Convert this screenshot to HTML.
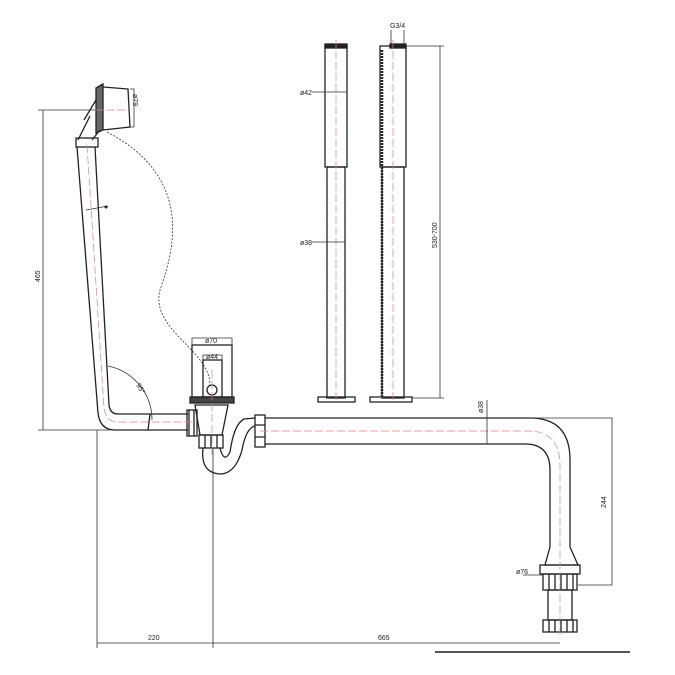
<!DOCTYPE html>
<html><head><meta charset="utf-8"><style>
html,body{margin:0;padding:0;background:#fff;}
svg{display:block;font-family:"Liberation Sans",sans-serif;}
</style></head><body>
<svg width="675" height="675" viewBox="0 0 675 675" xmlns="http://www.w3.org/2000/svg">
<g fill="none" stroke="#222" stroke-width="1.3">
<!-- overflow head -->
<path d="M96 88 L103 84 L103 130 L96 133 Z" fill="#666"/>
<path d="M103 87 L128 89 L130 127 L103 130"/>
<path d="M84 120 L96 100 M92 140 L100 130 M78 140 L90 116"/>
<rect x="76" y="138" width="22" height="9"/>
<!-- drain pipe left -->
<path d="M77 147 L98 413 Q100 430 115 430 L188 430"/>
<path d="M95 147 L109 405 Q110 414 118 414 L188 414"/>
<line x1="150" y1="414" x2="148" y2="430"/>
<rect x="187" y="410" width="10" height="26"/>
<path d="M189 410 v26 M194 410 v26"/>
<!-- drain -->
<rect x="192" y="345" width="40" height="52"/>
<rect x="203" y="360" width="19" height="37"/>
<circle cx="212" cy="390" r="5"/>
<rect x="190" y="397" width="44" height="6" fill="#444"/>
<path d="M195 405 L200 435 L222 435 L228 405 Z"/>
<rect x="199" y="435" width="24" height="13"/>
<path d="M205 435 v13 M211 435 v13 M217 435 v13"/>
<!-- trap -->
<path d="M203 448 Q200 474 222 474 Q236 472 242 450 Q246 428 255 426"/>
<path d="M220 448 Q224 464 230 452 Q234 424 244 419 L255 418"/>
<rect x="255" y="415" width="10" height="32"/>
<path d="M255 425 h10 M255 437 h10"/>
<!-- main pipe -->
<path d="M265 418 L530 418 Q570 418 570 460 L570 547"/>
<path d="M265 444 L525 444 Q550 444 550 470 L550 547"/>
<!-- bottom fitting -->
<path d="M550 547 L545 565 L578 565 L570 547"/>
<rect x="540" y="565" width="40" height="9"/>
<rect x="543" y="574" width="34" height="16"/>
<path d="M549 574 v16 M555 574 v16 M561 574 v16 M567 574 v16 M573 574 v16"/>
<rect x="548" y="590" width="24" height="30"/>
<rect x="543" y="620" width="34" height="12"/>
<path d="M549 620 v12 M555 620 v12 M561 620 v12 M567 620 v12 M573 620 v12"/>
<!-- posts -->
<rect x="325" y="46" width="22" height="121"/>
<rect x="327" y="167" width="18" height="231"/>
<rect x="325" y="44" width="22" height="4" fill="#222"/>
<rect x="318" y="397" width="37" height="5"/>
<rect x="380" y="46" width="26" height="121"/>
<rect x="382" y="167" width="22" height="231"/>
<rect x="390" y="44" width="16" height="4" fill="#222"/>
<line x1="382" y1="50" x2="382" y2="396" stroke-width="2.5" stroke-dasharray="2 1"/>
<rect x="370" y="397" width="42" height="5"/>
</g>
<!-- red centerlines -->
<g stroke="#e08080" stroke-width="0.7" stroke-dasharray="8 3" fill="none">
<path d="M87 145 L104 408 Q106 422 118 422 L195 422"/>
<line x1="212" y1="370" x2="212" y2="455"/>
<path d="M260 431 L528 431 Q560 431 560 465 L560 635"/>
<line x1="336" y1="40" x2="336" y2="400"/>
<line x1="393" y1="40" x2="393" y2="400"/>
<line x1="95" y1="110" x2="125" y2="110"/>
</g>
<!-- dims -->
<g stroke="#333" stroke-width="0.8" fill="none">
<path d="M43 110 L43 430 M38 110 L95 110 M38 430 L110 430"/>
<path d="M108 366 A55 55 0 0 1 152 420"/>
<path d="M97 430 L97 648 M213 448 L213 648 M97 643 L560 643"/>
<path d="M530 418 L612 418 L612 585 L578 585"/>
<path d="M487 400 L487 444"/>
<path d="M86 210 L108 206"/>
<path d="M192 345 L192 338 L232 338 L232 345 M203 360 L203 355 L222 355 L222 360"/>
<path d="M130 89 L134 89 L134 127 L130 127"/>
<path d="M440 46 L440 398 M406 46 L444 46 M412 398 L444 398"/>
<path d="M391 44 L391 30 M404 44 L404 30"/>
<path d="M312 92 L347 92 M312 242 L345 242"/>
<path d="M523 575 L543 575"/>
<path d="M107 132 C200 180 170 260 160 290 C150 330 210 350 210 385" stroke-dasharray="2 1.5"/>
</g>
<line x1="435" y1="652" x2="630" y2="652" stroke="#555" stroke-width="2"/>
<circle cx="106" cy="207" r="1.5" fill="#222"/>
<g font-size="7" fill="#222">
<text x="300" y="95">ø42</text>
<text x="300" y="245">ø38</text>
<text x="205" y="343">ø70</text>
<text x="206" y="359">ø44</text>
<text x="390" y="28">G3/4</text>
<text x="516" y="574">ø76</text>
<text x="148" y="640">220</text>
<text x="378" y="640">665</text>
<text transform="translate(40,282) rotate(-90)">465</text>
<text transform="translate(437,248) rotate(-90)">530-700</text>
<text transform="translate(606,508) rotate(-90)">244</text>
<text transform="translate(483,413) rotate(-90)">ø38</text>
<text transform="translate(133,94) rotate(90)">ø79</text>
<text transform="translate(136,385) rotate(60)">95°</text>
</g>
</svg>
</body></html>
